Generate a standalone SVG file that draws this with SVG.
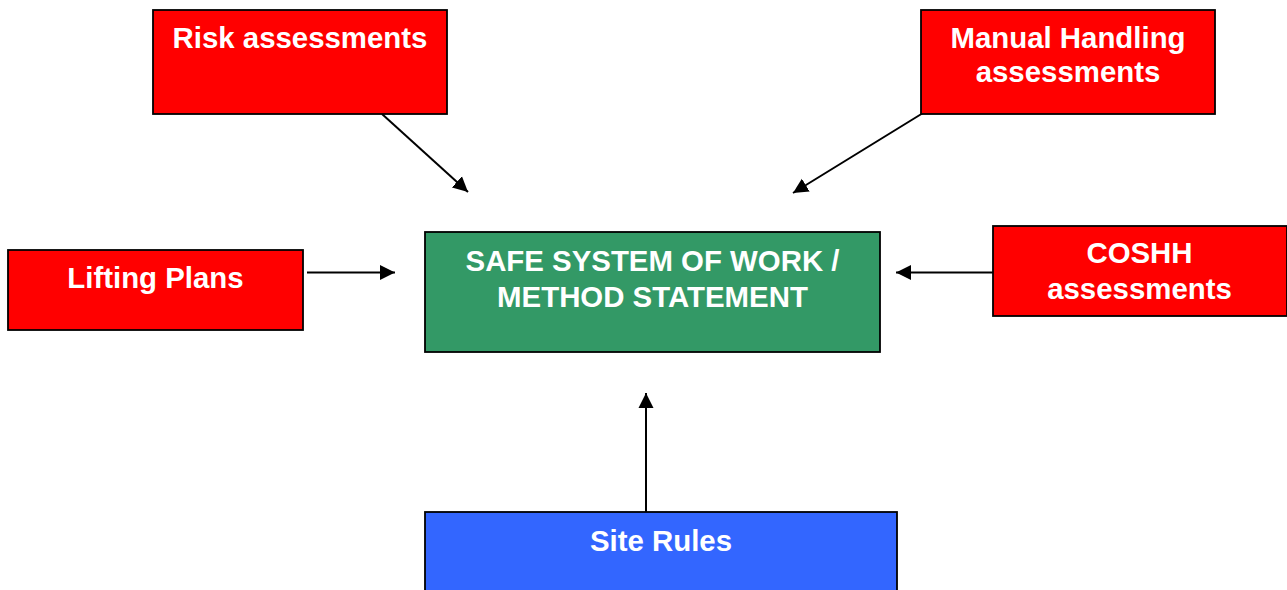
<svg xmlns="http://www.w3.org/2000/svg" width="1287" height="590" viewBox="0 0 1287 590">
<style>
.box{stroke:#000;stroke-width:1.8}
.red{fill:#FF0000}
.green{fill:#339966}
.blue{fill:#3366FF}
.t{font-family:"Liberation Sans",Arial,sans-serif;font-weight:bold;font-size:29.4px;fill:#fff;text-anchor:middle}
.c{stroke:#000;stroke-width:2;fill:none;marker-end:url(#ah)}
</style>
<defs>
<marker id="ah" markerWidth="16" markerHeight="16" viewBox="0 0 16 16" refX="15" refY="8" orient="auto" markerUnits="userSpaceOnUse">
<path d="M0,0.5 L15,8 L0,15.5 Z" fill="#000"/>
</marker>
</defs>
<rect width="1287" height="590" fill="#fff"/>
<g id="connectors">
<line class="c" x1="382" y1="114" x2="468" y2="192"/>
<line class="c" x1="923" y1="113" x2="793" y2="193"/>
<line class="c" x1="307" y1="272.5" x2="395" y2="272.5"/>
<line class="c" x1="997" y1="272.5" x2="896" y2="272.5"/>
<line class="c" x1="646" y1="512" x2="646" y2="393"/>
</g>
<g id="risk">
<rect class="box red" x="153" y="10" width="294" height="104"/>
<text class="t" x="300" y="48">Risk assessments</text>
</g>
<g id="manual">
<rect class="box red" x="921" y="10" width="294" height="104"/>
<text class="t" x="1068" y="48">Manual Handling</text>
<text class="t" x="1068" y="82">assessments</text>
</g>
<g id="lifting">
<rect class="box red" x="8" y="250" width="295" height="80"/>
<text class="t" x="155.5" y="288">Lifting Plans</text>
</g>
<g id="sssw">
<rect class="box green" x="425" y="232" width="455" height="120"/>
<text class="t" x="652.5" y="271">SAFE SYSTEM OF WORK /</text>
<text class="t" x="652.5" y="307">METHOD STATEMENT</text>
</g>
<g id="coshh">
<rect class="box red" x="993" y="226" width="294" height="90"/>
<text class="t" x="1139.5" y="263">COSHH</text>
<text class="t" x="1139.5" y="299">assessments</text>
</g>
<g id="site">
<rect class="box blue" x="425" y="512" width="472" height="90"/>
<text class="t" x="661" y="550.5">Site Rules</text>
</g>
</svg>
